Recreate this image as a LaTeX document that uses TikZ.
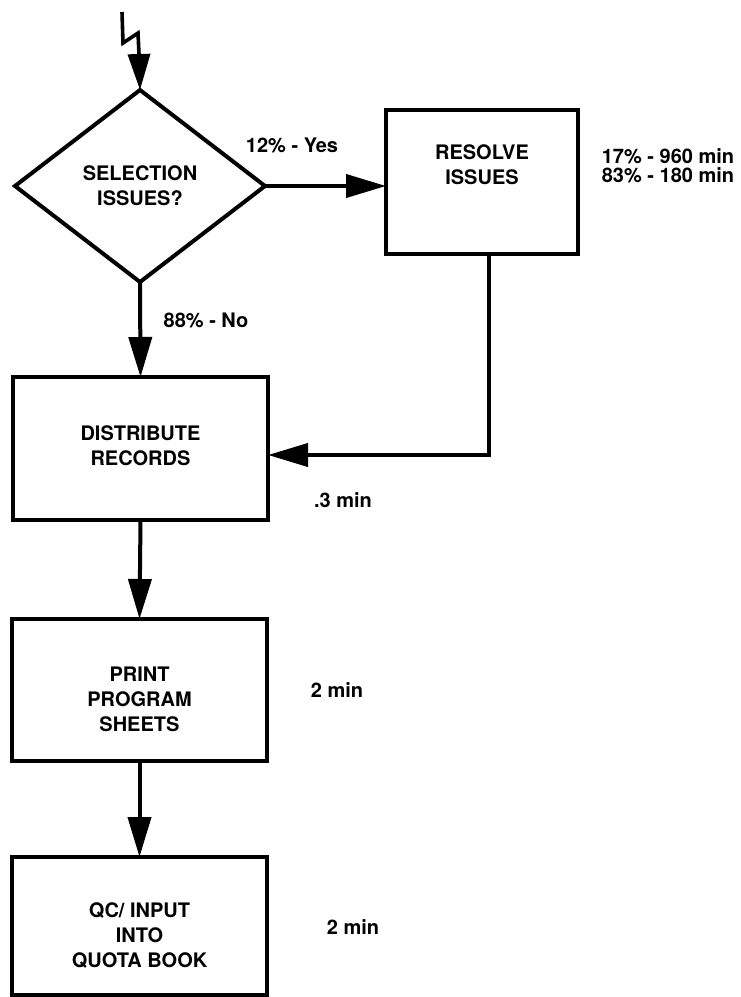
\documentclass[tikz,border=0pt]{standalone}
\usepackage{fontspec}
\setmainfont{TeX Gyre Heros}
\usetikzlibrary{arrows.meta,shapes.geometric}
\begin{document}
\begin{tikzpicture}[x=1pt,y=-1pt,
  every node/.style={font=\fontsize{20}{25}\selectfont\bfseries},
  stepbox/.style={draw,line width=4pt,inner sep=0pt,outer sep=0pt,align=center},
  decision/.style={draw,diamond,line width=4pt,inner sep=0pt,outer sep=0pt,
    minimum width=250pt,minimum height=192pt,align=center},
  flow/.style={line width=4pt,-{Triangle[length=40pt,width=23pt]}},
  note/.style={inner sep=0pt,align=center}]
  \useasboundingbox (0,0) rectangle (741,997);

  % nodes
  \coordinate (start) at (122,12);
  \node[decision] (sel) at (140,186) {SELECTION\\ISSUES?};
  \node[stepbox,minimum width=192pt,minimum height=144pt] (resolve) at (482,182) {};
  \node[note] (resolvetext) at (482,165) {RESOLVE\\ISSUES};
  \node[stepbox,minimum width=255pt,minimum height=143pt] (distribute) at (140.5,448.5) {};
  \node[note] (distributetext) at (140.5,445.5) {DISTRIBUTE\\RECORDS};
  \node[stepbox,minimum width=255pt,minimum height=142pt] (print) at (139.5,690) {};
  \node[note] (printtext) at (139.5,699) {PRINT\\PROGRAM\\SHEETS};
  \node[stepbox,minimum width=255pt,minimum height=138pt] (quota) at (139.5,926) {};
  \node[note] (quotatext) at (139.5,936) {QC/ INPUT\\INTO\\QUOTA BOOK};

  % annotations
  \node[note] (yes) at (292,145) {12\% - Yes};
  \node[note] (no) at (206,320) {88\% - No};
  \node[note,font=\fontsize{20}{19}\selectfont\bfseries] (resolvetime) at (668,166) {17\% - 960 min\\83\% - 180 min};
  \node[note] (distime) at (343,500) {.3 min};
  \node[note] (printtime) at (337,690) {2 min};
  \node[note] (quotatime) at (353,927) {2 min};

  % connectors
  \draw[line width=3.6pt,-{Triangle[length=36pt,width=22pt]}]
    (start) -- (123,43) -- (138,33) -- (139,54) -- (sel.north);
  \draw[flow] (sel.east) -- (sel.east -| resolve.west);
  \draw[flow] (sel.south) -- (distribute.north);
  \draw[flow] ([xshift=7pt]resolve.south) |- ([yshift=-6.5pt]distribute.east);
  \draw[flow] (distribute.south) -- (print.north);
  \draw[flow] (print.south) -- (quota.north);
\end{tikzpicture}
\end{document}
